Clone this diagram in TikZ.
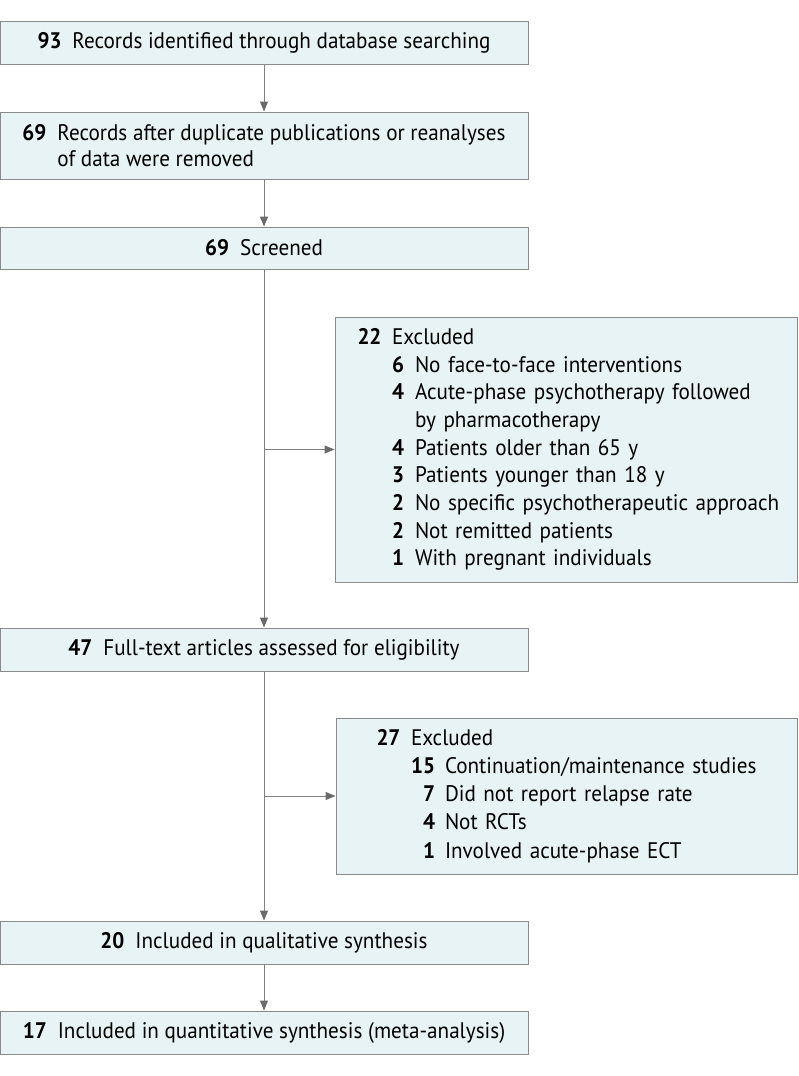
\documentclass[tikz,border=0pt]{standalone}
\usepackage{fontspec}
\setmainfont{PT Sans}[FakeStretch=0.94]
\usetikzlibrary{arrows.meta}
\definecolor{boxfill}{HTML}{E8F3F5}
\definecolor{boxline}{HTML}{8A8A8A}
\definecolor{arrline}{HTML}{808080}
\definecolor{tipcol}{HTML}{6A6A6A}
\newcommand{\numgap}{\hspace{11pt}}
\newcommand{\exhead}[2]{\mbox{\makebox[34.5pt][l]{\textbf{#1}}#2}}
\newcommand{\exsubA}[2]{\mbox{\hspace{34.5pt}\makebox[12pt][r]{\textbf{#1}}\hspace{11pt}#2}}
\newcommand{\exsubB}[2]{\mbox{\hspace{34.5pt}\makebox[24pt][r]{\textbf{#1}}\hspace{10pt}#2}}
\begin{document}
\begin{tikzpicture}[x=1pt,y=-1pt,
  mainbox/.style={draw=boxline,fill=boxfill,line width=1pt,inner sep=0pt,
    minimum width=528pt,align=center,font=\fontsize{22.5}{26}\selectfont},
  exbox/.style={draw=boxline,fill=boxfill,line width=1pt,inner ysep=0pt,
    align=left,font=\fontsize{22.5}{27.7}\selectfont},
  arr/.style={draw=arrline,line width=1pt,-{Triangle[length=10pt,width=8pt,color=tipcol,fill=tipcol]}}]
\useasboundingbox[fill=white] (0,0) rectangle (798,1076);
\node[mainbox,minimum height=43pt] (b1) at (264,42.5) {\textbf{93}\numgap Records identified through database searching};
\node[mainbox,minimum height=67pt,align=left] (b2) at (264,145.5) {\makebox[35pt][l]{\textbf{69}}Records after duplicate publications or reanalyses\\\hspace{35pt}of data were removed};
\node[mainbox,minimum height=42pt] (b3) at (264,248) {\textbf{69}\numgap Screened};
\node[exbox,inner xsep=22.5pt,text width=417pt,minimum height=265pt] (e1) at (566,449.5) {%
\exhead{22}{Excluded}\\
\exsubA{6}{No face-to-face interventions}\\
\exsubA{4}{Acute-phase psychotherapy followed}\\
\mbox{\hspace{57.5pt}by pharmacotherapy}\\
\exsubA{4}{Patients older than 65 y}\\
\exsubA{3}{Patients younger than 18 y}\\
\exsubA{2}{No specific psychotherapeutic approach}\\
\exsubA{2}{Not remitted patients}\\
\exsubA{1}{With pregnant individuals}};
\node[mainbox,minimum height=43pt] (b4) at (264,649.5) {\textbf{47}\numgap Full-text articles assessed for eligibility};
\node[exbox,inner xsep=40.5pt,text width=380pt,minimum height=156pt,font=\fontsize{22.5}{28.2}\selectfont] (e2) at (566.5,796) {%
\exhead{27}{Excluded}\\
\exsubB{15}{Continuation/maintenance studies}\\
\exsubB{7}{Did not report relapse rate}\\
\exsubB{4}{Not RCTs}\\
\exsubB{1}{Involved acute-phase ECT}};
\node[mainbox,minimum height=43pt] (b5) at (264,942.5) {\textbf{20}\numgap Included in qualitative synthesis};
\node[mainbox,minimum height=43pt] (b6) at (264,1032.5) {\textbf{17}\numgap Included in quantitative synthesis (meta-analysis)};
\draw[arr] (b1) -- (b2);
\draw[arr] (b2) -- (b3);
\draw[arr] (b3) -- (b4);
\draw[arr] (b3.south |- e1.west) -- (e1.west);
\draw[arr] (b4) -- (b5);
\draw[arr] (b4.south |- e2.west) -- (e2.west);
\draw[arr] (b5) -- (b6);
\end{tikzpicture}
\end{document}
